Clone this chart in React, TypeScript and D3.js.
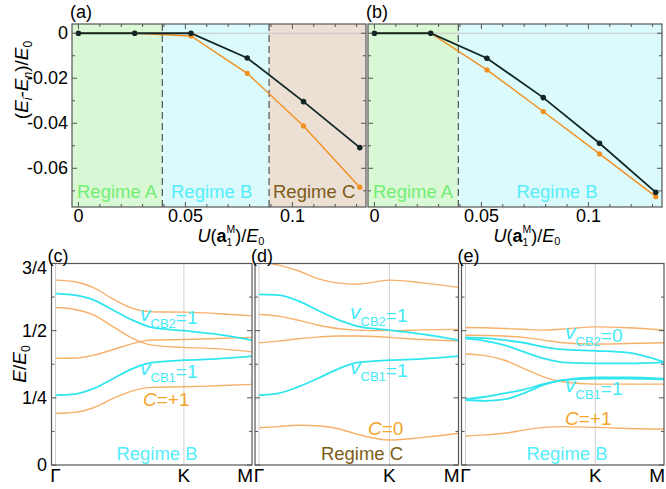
import React from "react";
import * as d3 from "d3";

// ---------- (a), (b): energy gaps vs. moiré potential ----------
const U_VALUES = [0, 0.0263, 0.0526, 0.0789, 0.1052, 0.1315];
const GAP_A_DARK = [0, 0, 0, -0.011, -0.0304, -0.0508];
const GAP_A_ORANGE = [0, 0, -0.0012, -0.0178, -0.0412, -0.0684];
const GAP_B_DARK = [0, 0, -0.0111, -0.0286, -0.0489, -0.0707];
const GAP_B_ORANGE = [0, 0, -0.0163, -0.0348, -0.0536, -0.0726];
const REGIME_EDGES = [0.0392, 0.0891];
const GAP_Y_MAJOR = [0, -0.02, -0.04, -0.06];
const GAP_Y_LABELS = ["0", "-0.02", "-0.04", "-0.06"];
const U_MAJOR = [0, 0.05, 0.1];
const U_LABELS = ["0", "0.05", "0.1"];

// ---------- (c), (d), (e): band structures along Γ-K-M ----------
const K_PATH = [0, 0.15, 0.3, 0.45, 0.6, 0.75, 1.0, 1.25, 1.53];
const K_TICKS = [0, 1, 1.53];
const K_LABELS = ["Γ", "K", "M"];
const E_MAJOR = [0, 0.25, 0.5, 0.75];
const E_LABELS = ["0", "1/4", "1/2", "3/4"];

const BANDS_C_ORANGE = [
  [0.688, 0.682, 0.659, 0.617, 0.583, 0.57, 0.569, 0.564, 0.555],
  [0.586, 0.579, 0.558, 0.514, 0.471, 0.446, 0.438, 0.433, 0.421],
  [0.397, 0.398, 0.409, 0.43, 0.452, 0.465, 0.467, 0.471, 0.475],
  [0.192, 0.196, 0.214, 0.248, 0.276, 0.289, 0.291, 0.295, 0.3],
];
const BANDS_C_CYAN = [
  [0.638, 0.632, 0.614, 0.576, 0.539, 0.512, 0.5, 0.487, 0.465],
  [0.26, 0.264, 0.285, 0.322, 0.359, 0.381, 0.39, 0.395, 0.405],
];
const BANDS_D_ORANGE = [
  [0.756, 0.744, 0.723, 0.694, 0.678, 0.673, 0.688, 0.678, 0.661],
  [0.56, 0.554, 0.539, 0.521, 0.508, 0.502, 0.5, 0.503, 0.505],
  [0.455, 0.461, 0.47, 0.476, 0.48, 0.48, 0.475, 0.467, 0.462],
  [0.139, 0.143, 0.148, 0.146, 0.136, 0.115, 0.093, 0.102, 0.118],
];
const BANDS_D_CYAN = [
  [0.635, 0.632, 0.611, 0.576, 0.542, 0.517, 0.502, 0.487, 0.465],
  [0.26, 0.267, 0.291, 0.322, 0.356, 0.381, 0.39, 0.395, 0.405],
];
const BANDS_E_ORANGE = [
  [0.512, 0.511, 0.508, 0.505, 0.502, 0.506, 0.514, 0.511, 0.502],
  [0.483, 0.482, 0.48, 0.475, 0.465, 0.455, 0.45, 0.452, 0.455],
  [0.413, 0.407, 0.39, 0.359, 0.328, 0.31, 0.301, 0.301, 0.301],
  [0.108, 0.112, 0.118, 0.13, 0.14, 0.143, 0.14, 0.136, 0.134],
];
const BANDS_E_CYAN = [
  [0.475, 0.472, 0.465, 0.455, 0.44, 0.43, 0.425, 0.418, 0.384],
  [0.47, 0.462, 0.446, 0.421, 0.397, 0.382, 0.378, 0.378, 0.382],
  [0.245, 0.254, 0.267, 0.281, 0.301, 0.316, 0.326, 0.326, 0.321],
  [0.242, 0.239, 0.244, 0.267, 0.298, 0.316, 0.322, 0.322, 0.319],
];

const FONT = "'Liberation Sans', Arial, Helvetica, sans-serif";
const FRAME = "#555";
const C_DARK = "#132626";
const C_ORANGE_MARK = "#f18f1f";
const C_BAND_ORANGE = "#f7b06a";
const C_BAND_CYAN = "#30e6ee";
const C_TXT_CYAN = "#44eaf6";
const C_TXT_ORANGE = "#f5a52a";
const REG_BG = ["#d9f8d5", "#dafafc", "#ecdfd3"];
const REG_TXT = ["#72ee72", "#55eefa", "#7d5c17"];

const TOP = { y0: 24, y1: 207 };
const GAP_DOMAIN: [number, number] = [-0.0772, 0.0041];
const U_DOMAIN: [number, number] = [-0.003, 0.1344];

type GapProps = {
  x0: number;
  x1: number;
  dark: number[];
  orange: number[];
  edges: number[];
  names: string[];
  nameX: number[];
  nameAnchor: string[];
  letter: string;
  showY: boolean;
  clipId: string;
};

function ULabel({ cx, y }: { cx: number; y: number }) {
  return (
    <text x={cx} y={y} textAnchor="middle" fontSize={18} fontFamily={FONT}>
      <tspan fontStyle="italic">U</tspan>
      <tspan>(</tspan>
      <tspan fontWeight="bold">a</tspan>
      <tspan fontSize={10.5} dy={4}>1</tspan>
      <tspan fontSize={10.5} dx={-5.8} dy={-13}>M</tspan>
      <tspan dy={9}>)/</tspan>
      <tspan fontStyle="italic">E</tspan>
      <tspan fontSize={11} dy={3}>0</tspan>
    </text>
  );
}

function GapPanel(p: GapProps) {
  const x = d3.scaleLinear().domain(U_DOMAIN).range([p.x0, p.x1]);
  const y = d3.scaleLinear().domain(GAP_DOMAIN).range([TOP.y1, TOP.y0]);
  const bounds = [U_DOMAIN[0], ...p.edges, U_DOMAIN[1]];
  const line = d3
    .line<number>()
    .x((_, i) => x(U_VALUES[i]))
    .y((d) => y(d));
  const yMinor = d3.range(0, -0.0751, -0.01);
  const xMinor = d3.range(0, 0.1341, 0.01);
  return (
    <g fontFamily={FONT}>
      <defs>
        <clipPath id={p.clipId}>
          <rect x={p.x0} y={TOP.y0} width={p.x1 - p.x0} height={TOP.y1 - TOP.y0} />
        </clipPath>
      </defs>
      {bounds.slice(0, -1).map((b, i) => (
        <rect
          key={i}
          x={x(b)}
          y={TOP.y0}
          width={x(bounds[i + 1]) - x(b)}
          height={TOP.y1 - TOP.y0}
          fill={REG_BG[i]}
        />
      ))}
      <line x1={p.x0} x2={p.x1} y1={y(0)} y2={y(0)} stroke="#c6c6c6" strokeWidth={1} />
      {p.edges.map((e, i) => (
        <line
          key={i}
          x1={x(e)}
          x2={x(e)}
          y1={TOP.y0}
          y2={TOP.y1}
          stroke="#444"
          strokeWidth={1.1}
          strokeDasharray="7,4"
        />
      ))}
      {p.names.map((n, i) => (
        <text
          key={n}
          x={p.nameX[i]}
          y={198}
          fontSize={18.5}
          fill={REG_TXT[i]}
          textAnchor={p.nameAnchor[i]}
        >
          {n}
        </text>
      ))}
      <g clipPath={`url(#${p.clipId})`}>
        <path d={line(p.orange) || ""} fill="none" stroke={C_ORANGE_MARK} strokeWidth={1.4} />
        <path d={line(p.dark) || ""} fill="none" stroke={C_DARK} strokeWidth={1.8} />
        {p.orange.map((v, i) => (
          <circle key={"o" + i} cx={x(U_VALUES[i])} cy={y(v)} r={2.6} fill={C_ORANGE_MARK} />
        ))}
        {p.dark.map((v, i) => (
          <circle key={"d" + i} cx={x(U_VALUES[i])} cy={y(v)} r={2.8} fill={C_DARK} />
        ))}
      </g>
      {yMinor.map((v, i) => {
        const major = GAP_Y_MAJOR.some((m) => Math.abs(m - v) < 1e-6);
        const len = major ? 5 : 3;
        return (
          <g key={"yt" + i} stroke={FRAME} strokeWidth={1}>
            <line x1={p.x0} x2={p.x0 + len} y1={y(v)} y2={y(v)} />
            <line x1={p.x1} x2={p.x1 - len} y1={y(v)} y2={y(v)} />
          </g>
        );
      })}
      {xMinor.map((v, i) => {
        const major = U_MAJOR.some((m) => Math.abs(m - v) < 1e-6);
        const len = major ? 5 : 3;
        return (
          <g key={"xt" + i} stroke={FRAME} strokeWidth={1}>
            <line x1={x(v)} x2={x(v)} y1={TOP.y1} y2={TOP.y1 - len} />
            <line x1={x(v)} x2={x(v)} y1={TOP.y0} y2={TOP.y0 + len} />
          </g>
        );
      })}
      <rect
        x={p.x0}
        y={TOP.y0}
        width={p.x1 - p.x0}
        height={TOP.y1 - TOP.y0}
        fill="none"
        stroke={FRAME}
        strokeWidth={1.2}
      />
      {p.showY &&
        GAP_Y_MAJOR.map((v, i) => (
          <text key={"yl" + i} x={68} y={y(v) + 6} fontSize={18} textAnchor="end">
            {GAP_Y_LABELS[i]}
          </text>
        ))}
      {U_MAJOR.map((v, i) => (
        <text key={"xl" + i} x={x(v)} y={222} fontSize={18} textAnchor="middle">
          {U_LABELS[i]}
        </text>
      ))}
      <ULabel cx={(p.x0 + p.x1) / 2 + 12} y={242} />
      <text x={p.x0 - 2} y={18} fontSize={18}>
        {p.letter}
      </text>
    </g>
  );
}

type BandText = { x: number; y: number; kind: "v" | "C" | "R"; sub?: string; val: string; color?: string };

type BandProps = {
  x0: number;
  x1: number;
  orange: number[][];
  cyan: number[][];
  letter: string;
  showY: boolean;
  clipId: string;
  labels: BandText[];
};

const BOT = { y0: 263.5, y1: 465 };

function BandLabel({ t }: { t: BandText }) {
  if (t.kind === "v") {
    return (
      <text x={t.x} y={t.y} fill={C_TXT_CYAN} fontFamily={FONT}>
        <tspan fontStyle="italic" fontSize={21}>v</tspan>
        <tspan fontSize={13} dy={7}>{t.sub}</tspan>
        <tspan fontSize={19} dy={-4}>{t.val}</tspan>
      </text>
    );
  }
  if (t.kind === "C") {
    return (
      <text x={t.x} y={t.y} fill={C_TXT_ORANGE} fontSize={19} fontFamily={FONT}>
        <tspan fontStyle="italic">C</tspan>
        <tspan>{t.val}</tspan>
      </text>
    );
  }
  return (
    <text x={t.x} y={t.y} fill={t.color} fontSize={18.5} textAnchor="middle" fontFamily={FONT}>
      {t.val}
    </text>
  );
}

function BandPanel(p: BandProps) {
  const k = d3.scaleLinear().domain([0, 1.53]).range([p.x0 + 4, p.x1]);
  const e = d3.scaleLinear().domain([0, 0.75]).range([BOT.y1, BOT.y0]);
  const line = d3
    .line<number>()
    .x((_, i) => k(K_PATH[i]))
    .y((d) => e(d))
    .curve(d3.curveMonotoneX);
  const eTicks = d3.range(0, 0.751, 0.125);
  return (
    <g fontFamily={FONT}>
      <defs>
        <clipPath id={p.clipId}>
          <rect x={p.x0} y={BOT.y0} width={p.x1 - p.x0} height={BOT.y1 - BOT.y0} />
        </clipPath>
      </defs>
      <rect x={p.x0} y={BOT.y0} width={p.x1 - p.x0} height={BOT.y1 - BOT.y0} fill="#fff" />
      {K_TICKS.slice(0, 2).map((t, i) => (
        <line key={i} x1={k(t)} x2={k(t)} y1={BOT.y0} y2={BOT.y1} stroke="#cfcfcf" strokeWidth={1} />
      ))}
      <g clipPath={`url(#${p.clipId})`} fill="none">
        {p.orange.map((b, i) => (
          <path key={"o" + i} d={line(b) || ""} stroke={C_BAND_ORANGE} strokeWidth={1.4} />
        ))}
        {p.cyan.map((b, i) => (
          <path key={"c" + i} d={line(b) || ""} stroke={C_BAND_CYAN} strokeWidth={1.8} />
        ))}
      </g>
      {eTicks.map((v, i) => {
        const len = i % 2 === 0 ? 5 : 3;
        return (
          <g key={"et" + i} stroke={FRAME} strokeWidth={1}>
            <line x1={p.x0} x2={p.x0 + len} y1={e(v)} y2={e(v)} />
            <line x1={p.x1} x2={p.x1 - len} y1={e(v)} y2={e(v)} />
          </g>
        );
      })}
      <rect
        x={p.x0}
        y={BOT.y0}
        width={p.x1 - p.x0}
        height={BOT.y1 - BOT.y0}
        fill="none"
        stroke={FRAME}
        strokeWidth={1.2}
      />
      {p.labels.map((t, i) => (
        <BandLabel key={i} t={t} />
      ))}
      {K_TICKS.map((t, i) => (
        <text
          key={"kl" + i}
          x={i === 2 ? p.x1 + 1 : k(t)}
          y={482}
          fontSize={19}
          textAnchor={i === 2 ? "end" : "middle"}
        >
          {K_LABELS[i]}
        </text>
      ))}
      {p.showY &&
        E_MAJOR.map((v, i) => (
          <text key={"el" + i} x={47} y={e(v) + (i === 3 ? 10 : 6)} fontSize={18} textAnchor="end">
            {E_LABELS[i]}
          </text>
        ))}
      <text x={p.x0 - 4} y={262} fontSize={18}>
        {p.letter}
      </text>
    </g>
  );
}

export default function App() {
  return (
    <svg
      width={666}
      height={489}
      viewBox="0 0 666 489"
      style={{ position: "fixed", left: 0, top: 0, background: "#fff" }}
    >
      <rect width={666} height={489} fill="#fff" />
      <GapPanel
        x0={72}
        x1={366}
        dark={GAP_A_DARK}
        orange={GAP_A_ORANGE}
        edges={REGIME_EDGES}
        names={["Regime A", "Regime B", "Regime C"]}
        nameX={[77, 171, 273]}
        nameAnchor={["start", "start", "start"]}
        letter="(a)"
        showY={true}
        clipId="clipA"
      />
      <GapPanel
        x0={368}
        x1={662}
        dark={GAP_B_DARK}
        orange={GAP_B_ORANGE}
        edges={REGIME_EDGES.slice(0, 1)}
        names={["Regime A", "Regime B"]}
        nameX={[373, 557]}
        nameAnchor={["start", "middle"]}
        letter="(b)"
        showY={false}
        clipId="clipB"
      />
      <text
        transform="translate(28,80) rotate(-90)"
        textAnchor="middle"
        fontSize={19}
        fontFamily={FONT}
      >
        <tspan>(</tspan>
        <tspan fontStyle="italic">E</tspan>
        <tspan fontStyle="italic" fontSize={12} dy={4}>i</tspan>
        <tspan dy={-4}>-</tspan>
        <tspan fontStyle="italic">E</tspan>
        <tspan fontStyle="italic" fontSize={12} dy={4}>n</tspan>
        <tspan dy={-4}>)/</tspan>
        <tspan fontStyle="italic">E</tspan>
        <tspan fontSize={12} dy={4}>0</tspan>
      </text>

      <BandPanel
        x0={51.5}
        x1={252}
        orange={BANDS_C_ORANGE}
        cyan={BANDS_C_CYAN}
        letter="(c)"
        showY={true}
        clipId="clipC"
        labels={[
          { x: 140, y: 321, kind: "v", sub: "CB2", val: "=1" },
          { x: 140, y: 375, kind: "v", sub: "CB1", val: "=1" },
          { x: 143, y: 406, kind: "C", val: "=+1" },
          { x: 157, y: 460, kind: "R", val: "Regime B", color: REG_TXT[1] },
        ]}
      />
      <BandPanel
        x0={255}
        x1={458.5}
        orange={BANDS_D_ORANGE}
        cyan={BANDS_D_CYAN}
        letter="(d)"
        showY={false}
        clipId="clipD"
        labels={[
          { x: 350, y: 319, kind: "v", sub: "CB2", val: "=1" },
          { x: 350, y: 374, kind: "v", sub: "CB1", val: "=1" },
          { x: 368, y: 435, kind: "C", val: "=0" },
          { x: 362, y: 460, kind: "R", val: "Regime C", color: REG_TXT[2] },
        ]}
      />
      <BandPanel
        x0={461.5}
        x1={664}
        orange={BANDS_E_ORANGE}
        cyan={BANDS_E_CYAN}
        letter="(e)"
        showY={false}
        clipId="clipE"
        labels={[
          { x: 565, y: 339, kind: "v", sub: "CB2", val: "=0" },
          { x: 565, y: 392, kind: "v", sub: "CB1", val: "=1" },
          { x: 565, y: 425, kind: "C", val: "=+1" },
          { x: 567, y: 460, kind: "R", val: "Regime B", color: REG_TXT[1] },
        ]}
      />
      <text
        transform="translate(26,364) rotate(-90)"
        textAnchor="middle"
        fontSize={19}
        fontFamily={FONT}
      >
        <tspan fontStyle="italic">E</tspan>
        <tspan>/</tspan>
        <tspan fontStyle="italic">E</tspan>
        <tspan fontSize={12} dy={4}>0</tspan>
      </text>
    </svg>
  );
}
